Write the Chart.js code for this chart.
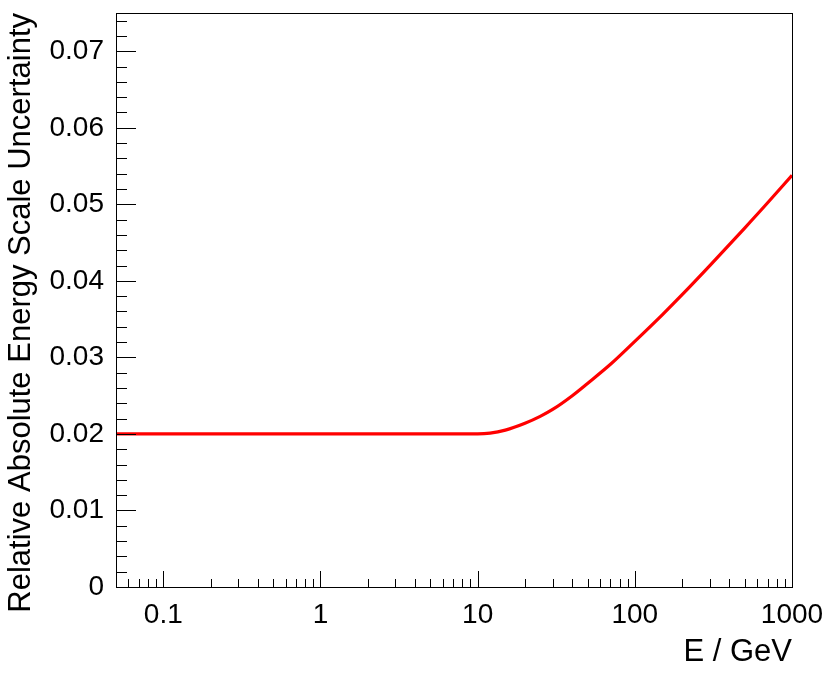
<!DOCTYPE html>
<html>
<head>
<meta charset="utf-8">
<script src="https://cdn.jsdelivr.net/npm/chart.js@4/dist/chart.umd.min.js"></script>
<style>
  html, body { margin: 0; padding: 0; background: #fff; }
  #graf { display: block; }
</style>
</head>
<body>
<canvas id="graf" width="830" height="675"></canvas>
<script>
// --- DADOS ---
const energias = [0.05, 0.1, 1, 5, 10, 12, 15, 20, 25, 30, 40, 50, 70, 100, 150, 200, 300, 500, 700, 1000];
const incerteza = [0.02, 0.02, 0.02, 0.02, 0.02, 0.0201, 0.0205, 0.0214, 0.0223, 0.0232, 0.0250, 0.0266, 0.0291, 0.0321, 0.0356, 0.0382, 0.0420, 0.0469, 0.0502, 0.0538];

// --- EIXOS ---
const xMajor = [0.1, 1, 10, 100, 1000];
const xLabels = ['0.1', '1', '10', '100', '1000'];
const xMinor = [0.06, 0.07, 0.08, 0.09,
    0.2, 0.3, 0.4, 0.5, 0.6, 0.7, 0.8, 0.9,
    2, 3, 4, 5, 6, 7, 8, 9,
    20, 30, 40, 50, 60, 70, 80, 90,
    200, 300, 400, 500, 600, 700, 800, 900];
const yMajor = [0, 0.01, 0.02, 0.03, 0.04, 0.05, 0.06, 0.07];
const yLabels = ['0', '0.01', '0.02', '0.03', '0.04', '0.05', '0.06', '0.07'];
const yMinor = [0.002, 0.004, 0.006, 0.008, 0.012, 0.014, 0.016, 0.018,
    0.022, 0.024, 0.026, 0.028, 0.032, 0.034, 0.036, 0.038,
    0.042, 0.044, 0.046, 0.048, 0.052, 0.054, 0.056, 0.058,
    0.062, 0.064, 0.066, 0.068, 0.072, 0.074];

const FONTE = '"Liberation Sans", Arial, Helvetica, sans-serif';

// ticks para dentro + moldura, estilo ROOT
const moldura = {
    id: 'moldura',
    afterDraw(chart) {
        const { ctx, chartArea: a, scales } = chart;
        ctx.save();
        ctx.strokeStyle = '#000';
        ctx.lineWidth = 1;
        ctx.beginPath();
        const marca = (valores, len) => {
            valores.forEach(v => {
                const px = Math.round(scales.x.getPixelForValue(v)) + 0.5;
                ctx.moveTo(px, a.bottom);
                ctx.lineTo(px, a.bottom - len);
            });
        };
        const marcaY = (valores, len) => {
            valores.forEach(v => {
                const py = Math.round(scales.y.getPixelForValue(v)) + 0.5;
                ctx.moveTo(a.left, py);
                ctx.lineTo(a.left + len, py);
            });
        };
        marca(xMajor, 16);
        marca(xMinor, 8);
        marcaY(yMajor, 20);
        marcaY(yMinor, 11);
        ctx.stroke();
        ctx.strokeRect(Math.round(a.left) + 0.5, Math.round(a.top) + 0.5,
            Math.round(a.right - a.left), Math.round(a.bottom - a.top));
        ctx.restore();
    }
};

new Chart(document.getElementById('graf'), {
    type: 'line',
    data: {
        datasets: [{
            data: energias.map((e, i) => ({ x: e, y: incerteza[i] })),
            borderColor: '#ff0000',
            borderWidth: 3.2,
            pointRadius: 0,
            cubicInterpolationMode: 'monotone',
            fill: false
        }]
    },
    options: {
        responsive: false,
        animation: false,
        layout: { padding: { left: 0, top: 13, right: 38, bottom: 0 } },
        plugins: { legend: { display: false }, tooltip: { enabled: false } },
        scales: {
            x: {
                type: 'logarithmic',
                min: 0.05,
                max: 1000,
                grid: { display: false },
                border: { display: false },
                afterBuildTicks: (s) => { s.ticks = xMajor.map(v => ({ value: v })); },
                afterFit: (s) => { s.height = 88; s.paddingLeft = 0; s.paddingRight = 0; },
                ticks: {
                    autoSkip: false,
                    maxRotation: 0,
                    padding: 3,
                    color: '#000',
                    font: { family: FONTE, size: 28 },
                    callback: (v, i) => xLabels[i]
                },
                title: {
                    display: true,
                    text: 'E / GeV',
                    align: 'end',
                    color: '#000',
                    font: { family: FONTE, size: 31, lineHeight: 1.355 },
                    padding: { top: 0, bottom: 2 }
                }
            },
            y: {
                min: 0,
                max: 0.075,
                grid: { display: false },
                border: { display: false },
                afterBuildTicks: (s) => { s.ticks = yMajor.map(v => ({ value: v })); },
                afterFit: (s) => { s.width = 116; s.paddingTop = 0; s.paddingBottom = 0; },
                ticks: {
                    autoSkip: false,
                    padding: 4,
                    color: '#000',
                    font: { family: FONTE, size: 28 },
                    callback: (v, i) => yLabels[i]
                },
                title: {
                    display: true,
                    text: 'Relative Absolute Energy Scale Uncertainty',
                    align: 'end',
                    color: '#000',
                    font: { family: FONTE, size: 31, lineHeight: 1.355 },
                    padding: { top: 0, bottom: 0 }
                }
            }
        }
    },
    plugins: [moldura]
});
</script>
</body>
</html>
